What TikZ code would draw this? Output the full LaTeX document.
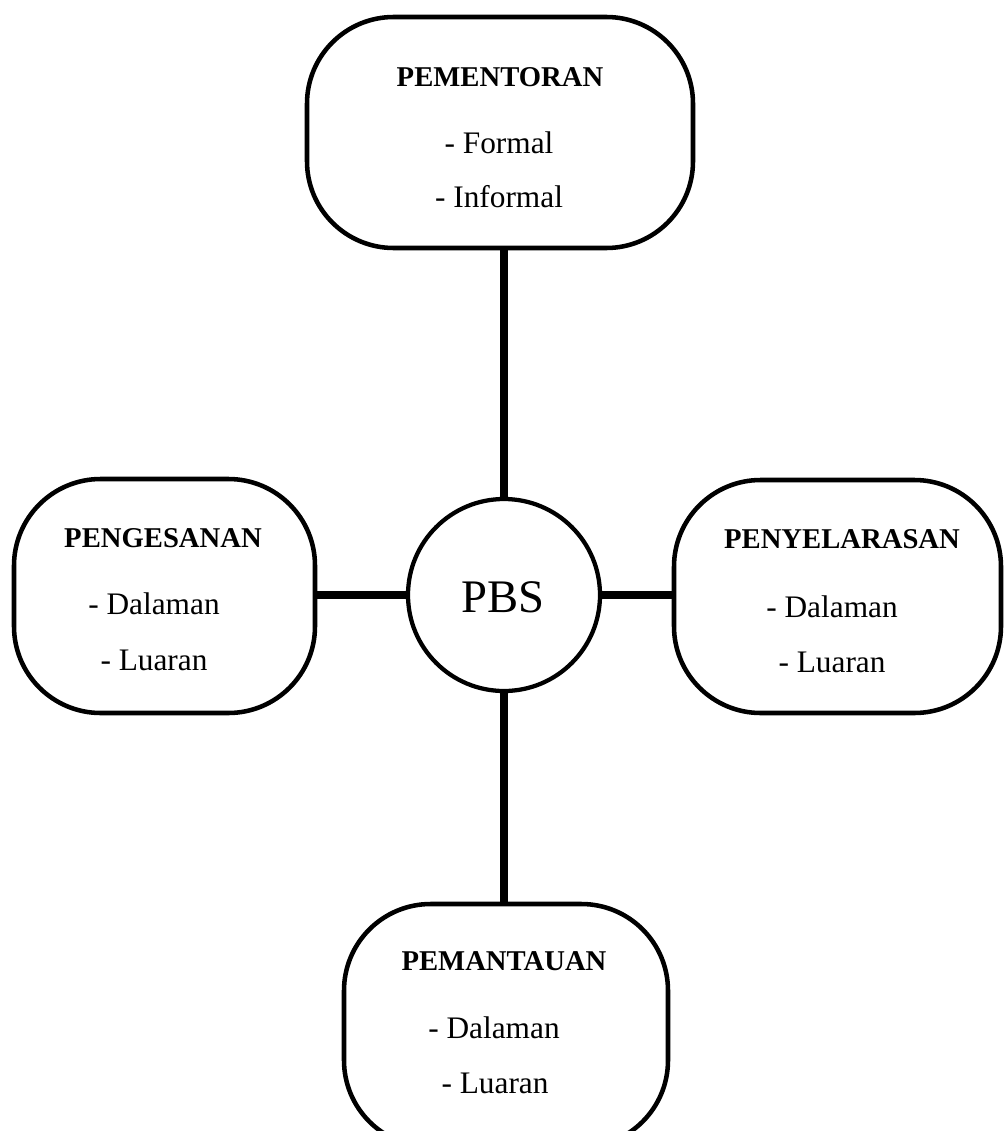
\documentclass[tikz,border=0pt]{standalone}
\usepackage{fontspec}
\setmainfont{Liberation Serif}
\begin{document}
\begin{tikzpicture}[x=0.75pt,y=-0.75pt,
  boxnode/.style={draw,line width=3.4pt,rounded corners=65pt,inner sep=0pt,outer sep=0pt},
  hubnode/.style={draw,circle,line width=3.2pt,inner sep=0pt,outer sep=0pt,minimum size=144pt},
  ttl/.style={anchor=base,inner sep=0pt,font=\fontsize{21.5pt}{24pt}\selectfont\bfseries},
  itm/.style={anchor=base,inner sep=0pt,font=\fontsize{23.5pt}{26pt}\selectfont},
  conn/.style={line width=6.5pt}]
\clip (0,0) rectangle (1006,1131);
\fill[white] (0,0) rectangle (1006,1131);
% boxes
\node[boxnode,minimum width=289.5pt,minimum height=173.25pt] (top) at (500,132.5) {};
\node[boxnode,minimum width=225.75pt,minimum height=175.5pt] (left) at (164.5,596) {};
\node[boxnode,minimum width=245.25pt,minimum height=174.75pt] (right) at (837.5,596.5) {};
\node[boxnode,minimum width=243pt,minimum height=182.25pt] (bottom) at (506,1025.5) {};
\node[hubnode] (pbs) at (504,595) {};
\node[anchor=base,inner sep=0pt,font=\fontsize{35pt}{40pt}\selectfont] (pbstext) at (503,612) {PBS};
% connectors
\draw[conn] (pbs.north) -- (pbs.north |- top.south);
\draw[conn] (pbs.south) -- (pbs.south |- bottom.north);
\draw[conn] (pbs.west) -- (pbs.west -| left.east);
\draw[conn] (pbs.east) -- (pbs.east -| right.west);
% texts
\node[ttl] (t1) at (500,86) {PEMENTORAN};
\node[itm] (t1a) at (499,153) {- Formal};
\node[itm] (t1b) at (499,207) {- Informal};
\node[ttl] (t2) at (163,547) {PENGESANAN};
\node[itm] (t2a) at (154,614) {- Dalaman};
\node[itm] (t2b) at (154,670) {- Luaran};
\node[ttl] (t3) at (842,548) {PENYELARASAN};
\node[itm] (t3a) at (832,617) {- Dalaman};
\node[itm] (t3b) at (832,672) {- Luaran};
\node[ttl] (t4) at (504,970) {PEMANTAUAN};
\node[itm] (t4a) at (494,1038) {- Dalaman};
\node[itm] (t4b) at (495,1093) {- Luaran};
\end{tikzpicture}
\end{document}
